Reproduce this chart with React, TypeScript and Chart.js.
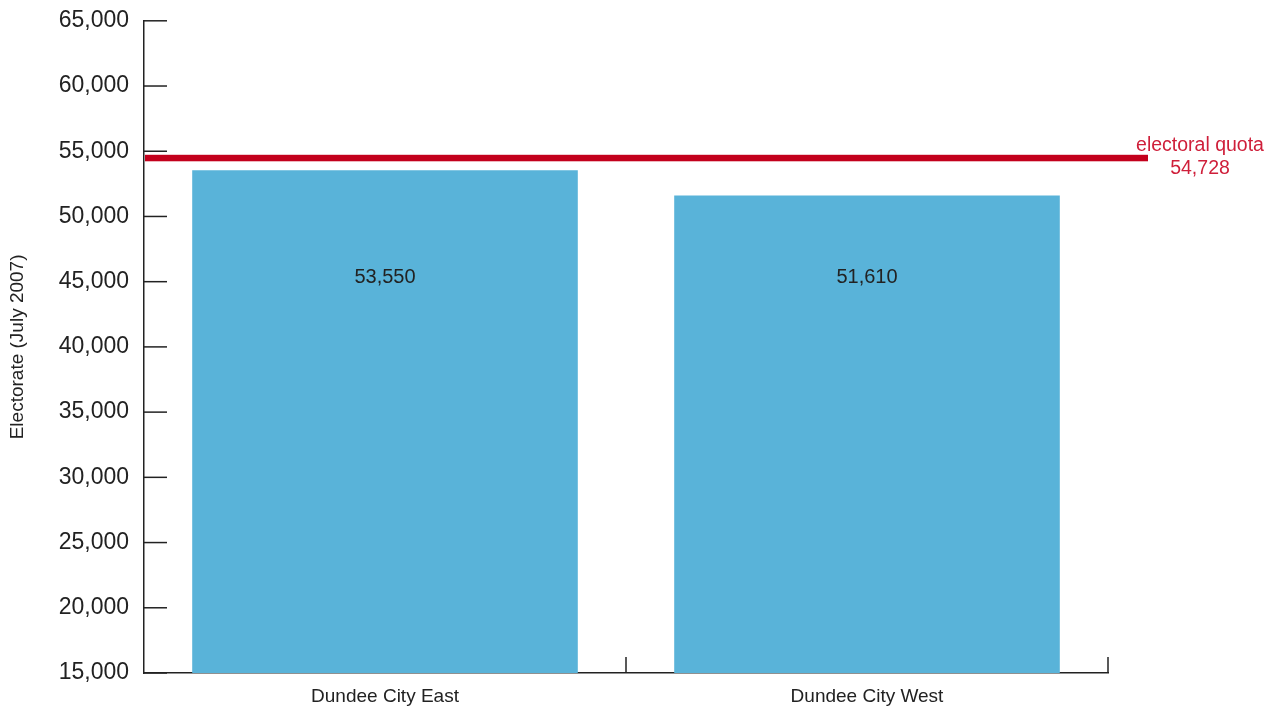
import React, { useEffect, useRef } from "react";
import { Chart, registerables } from "chart.js";

Chart.register(...registerables);

const categories = ["Dundee City East", "Dundee City West"];
const electorate = [53550, 51610];
const quotaValue = 54728;
const quotaLabel = ["electoral quota", "54,728"];
const yMin = 15000;
const yMax = 65000;
const yStep = 5000;
const valueLabelLevel = 45300;
const yTitle = "Electorate (July 2007)";

const FONT = "'Liberation Sans', Helvetica, Arial, sans-serif";
const TEXT = "#222222";
const AXIS = "#222222";
const BAR = "#59b3d9";
const QUOTA_LINE = "#c3001c";
const QUOTA_TEXT = "#cf1f3a";

const fmt = (v: number) => v.toLocaleString("en-US");

const decor = {
  id: "decor",
  afterDraw(chart: any) {
    const { ctx, chartArea, scales } = chart;
    const x = scales.x;
    const y = scales.y;
    ctx.save();
    // inward y ticks
    ctx.strokeStyle = AXIS;
    ctx.lineWidth = 1.5;
    y.ticks.forEach((_t: any, i: number) => {
      const py = y.getPixelForTick(i);
      ctx.beginPath();
      ctx.moveTo(chartArea.left, py);
      ctx.lineTo(chartArea.left + 23, py);
      ctx.stroke();
    });
    // category boundary ticks (upward)
    const n = categories.length;
    const w = (x.right - x.left) / n;
    for (let i = 1; i <= n; i++) {
      const px = x.left + w * i;
      ctx.beginPath();
      ctx.moveTo(px, chartArea.bottom);
      ctx.lineTo(px, chartArea.bottom - 16);
      ctx.stroke();
    }
    // value labels inside bars
    ctx.font = `20px ${FONT}`;
    ctx.fillStyle = TEXT;
    ctx.textAlign = "center";
    ctx.textBaseline = "middle";
    const meta = chart.getDatasetMeta(0);
    const ly = y.getPixelForValue(valueLabelLevel);
    meta.data.forEach((bar: any, i: number) => {
      ctx.fillText(fmt(electorate[i]), bar.x, ly);
    });
    // quota line (band hanging just below the quota value)
    const qy = y.getPixelForValue(quotaValue);
    ctx.fillStyle = QUOTA_LINE;
    ctx.fillRect(chartArea.left + 1, qy, chartArea.right + 40 - chartArea.left - 1, 6.5);
    ctx.fillStyle = QUOTA_TEXT;
    ctx.font = `19.5px ${FONT}`;
    ctx.fillText(quotaLabel[0], chartArea.right + 92, qy - 9);
    ctx.fillText(quotaLabel[1], chartArea.right + 92, qy + 14);
    ctx.restore();
  },
};

export default function App() {
  const ref = useRef<HTMLCanvasElement | null>(null);
  useEffect(() => {
    if (!ref.current) return;
    const chart = new Chart(ref.current, {
      type: "bar",
      data: {
        labels: categories,
        datasets: [
          {
            data: electorate,
            backgroundColor: BAR,
            borderWidth: 0,
            barPercentage: 0.8,
            categoryPercentage: 1.0,
          },
        ],
      },
      options: {
        animation: false,
        responsive: false,
        maintainAspectRatio: false,
        layout: { padding: { top: 14, right: 168, bottom: 0, left: 0 } },
        plugins: {
          legend: { display: false },
          tooltip: { enabled: false },
        },
        scales: {
          x: {
            afterFit: (s: any) => {
              s.height = 36;
            },
            grid: { display: false },
            border: { display: true, color: AXIS, width: 1.5 },
            ticks: {
              color: TEXT,
              font: { family: FONT, size: 19 },
              padding: 4,
            },
          },
          y: {
            min: yMin,
            max: yMax,
            afterFit: (s: any) => {
              s.width = 144;
            },
            grid: { display: false },
            border: { display: true, color: AXIS, width: 1.5 },
            ticks: {
              stepSize: yStep,
              color: TEXT,
              font: { family: FONT, size: 23 },
              padding: 7,
              callback: (v: any) => fmt(Number(v)),
            },
            title: {
              display: true,
              text: yTitle,
              color: TEXT,
              font: { family: FONT, size: 19 },
              padding: { top: 6, bottom: 0 },
            },
          },
        },
      },
      plugins: [decor],
    });
    return () => chart.destroy();
  }, []);
  return (
    <div style={{ position: "absolute", left: 0, top: 0, width: 1276, height: 709 }}>
      <canvas ref={ref} width={1276} height={709} />
    </div>
  );
}
